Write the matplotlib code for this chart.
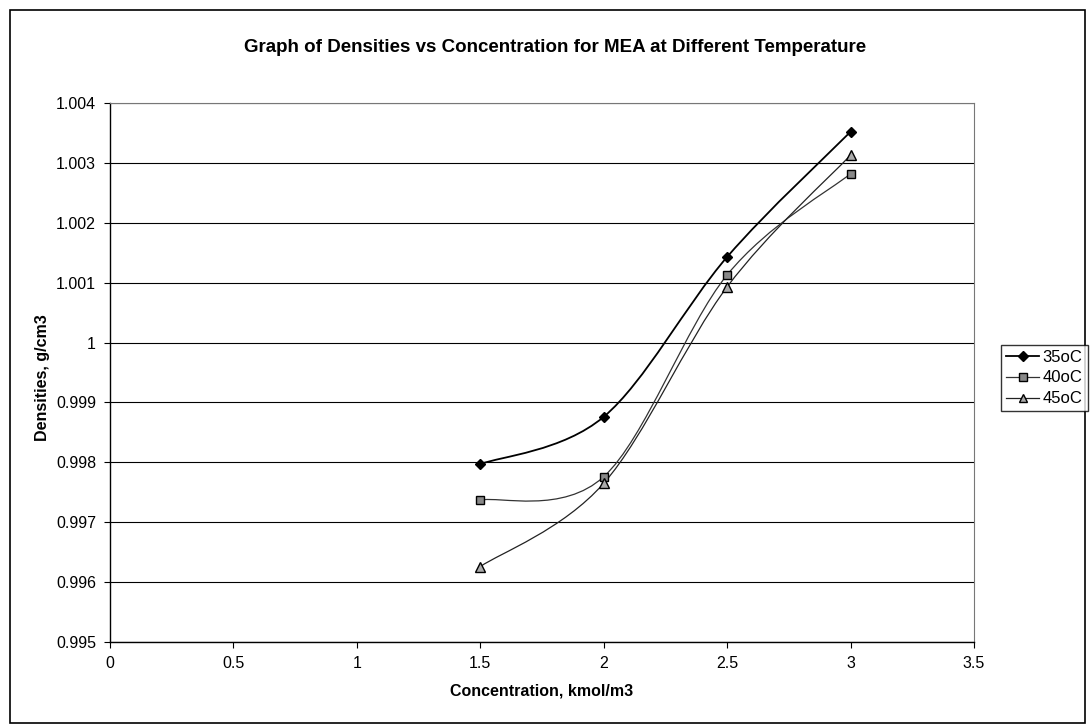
import numpy as np
import matplotlib
matplotlib.use("Agg")
import matplotlib.pyplot as plt
from matplotlib.path import Path
from matplotlib.patches import PathPatch, Rectangle
from matplotlib.lines import Line2D

plt.rcParams['font.family'] = ['Liberation Sans', 'DejaVu Sans']

# nong do (kmol/m3) va khoi luong rieng (g/cm3) o tung nhiet do
conc = [1.5, 2.0, 2.5, 3.0]
rho_35 = [0.99797, 0.99876, 1.00143, 1.00352]
rho_40 = [0.99737, 0.99776, 1.00113, 1.00282]
rho_45 = [0.99626, 0.99765, 1.00093, 1.00313]
labels = ["35oC", "40oC", "45oC"]

x_ticks = [0, 0.5, 1, 1.5, 2, 2.5, 3, 3.5]
y_ticks = [0.995, 0.996, 0.997, 0.998, 0.999, 1.0, 1.001, 1.002, 1.003, 1.004]
y_ticklabels = ["0.995", "0.996", "0.997", "0.998", "0.999", "1", "1.001", "1.002", "1.003", "1.004"]


def smooth_path(xs, ys):
    # duong cong Bezier kieu "smoothed line" cua Excel
    pts = np.column_stack([xs, ys])
    n = len(pts)
    verts = [pts[0]]
    codes = [Path.MOVETO]
    for i in range(n - 1):
        p_prev = pts[i - 1] if i > 0 else pts[i]
        p_next2 = pts[i + 2] if i + 2 < n else pts[i + 1]
        c1 = pts[i] + (pts[i + 1] - p_prev) / 6
        c2 = pts[i + 1] - (p_next2 - pts[i]) / 6
        verts += [c1, c2, pts[i + 1]]
        codes += [Path.CURVE4] * 3
    return Path(verts, codes)


fig = plt.figure(figsize=(10.92, 7.27), dpi=100)
ax = fig.add_axes([110 / 1092, 1 - 642 / 727, 864 / 1092, 539 / 727])

styles = [
    dict(marker="D", ms=5.5, mfc="black", mec="black", color="black", lw=1.3),
    dict(marker="s", ms=6, mfc="#888888", mec="black", color="#333333", lw=0.9),
    dict(marker="^", ms=6.5, mfc="#aaaaaa", mec="black", color="#222222", lw=0.9),
]

handles = []
for ys, lab, st in zip([rho_35, rho_40, rho_45], labels, styles):
    ax.add_patch(PathPatch(smooth_path(conc, ys), fill=False,
                           edgecolor=st["color"], lw=st["lw"], zorder=3))
    ax.plot(conc, ys, linestyle="none", marker=st["marker"], ms=st["ms"],
            mfc=st["mfc"], mec=st["mec"], zorder=4)
    handles.append(Line2D([], [], color=st["color"], lw=st["lw"], marker=st["marker"],
                          ms=st["ms"] - 0.5, mfc=st["mfc"], mec=st["mec"], label=lab))

ax.set_xlim(0, 3.5)
ax.set_ylim(0.995, 1.004)
ax.set_xticks(x_ticks)
ax.set_xticklabels([f"{t:g}" for t in x_ticks])
ax.set_yticks(y_ticks)
ax.set_yticklabels(y_ticklabels)
ax.tick_params(labelsize=11.5, direction="out", length=4, width=0.8, pad=6)
ax.grid(axis="y", color="black", lw=0.8)
ax.set_axisbelow(True)
for side in ["top", "right"]:
    ax.spines[side].set_color("#777777")
    ax.spines[side].set_linewidth(0.8)
for side in ["left", "bottom"]:
    ax.spines[side].set_color("black")
    ax.spines[side].set_linewidth(1.0)

ax.set_xlabel("Concentration, kmol/m3", fontsize=11.5, fontweight="bold", labelpad=9)
fig.text(43 / 1092, 1 - 378 / 727, "Densities, g/cm3", rotation=90,
         ha="center", va="center", fontsize=11.5, fontweight="bold")
fig.text(555 / 1092, 1 - 48 / 727, "Graph of Densities vs Concentration for MEA at Different Temperature",
         ha="center", va="center", fontsize=13.5, fontweight="bold")

leg = fig.legend(handles=handles, loc="center left", bbox_to_anchor=(1001 / 1092, 1 - 378 / 727),
                 frameon=True, fancybox=False, edgecolor="black", fontsize=12,
                 handlelength=2.0, handletextpad=0.2, borderpad=0.3, labelspacing=0.35,
                 borderaxespad=0)
leg.get_frame().set_linewidth(1.0)

# khung bao quanh toan bo bieu do
fig.add_artist(Rectangle((10 / 1092, 4 / 727), 1075 / 1092, 713 / 727, transform=fig.transFigure,
                         fill=False, edgecolor="black", lw=1.2))

fig.savefig("out.png", dpi=100)
